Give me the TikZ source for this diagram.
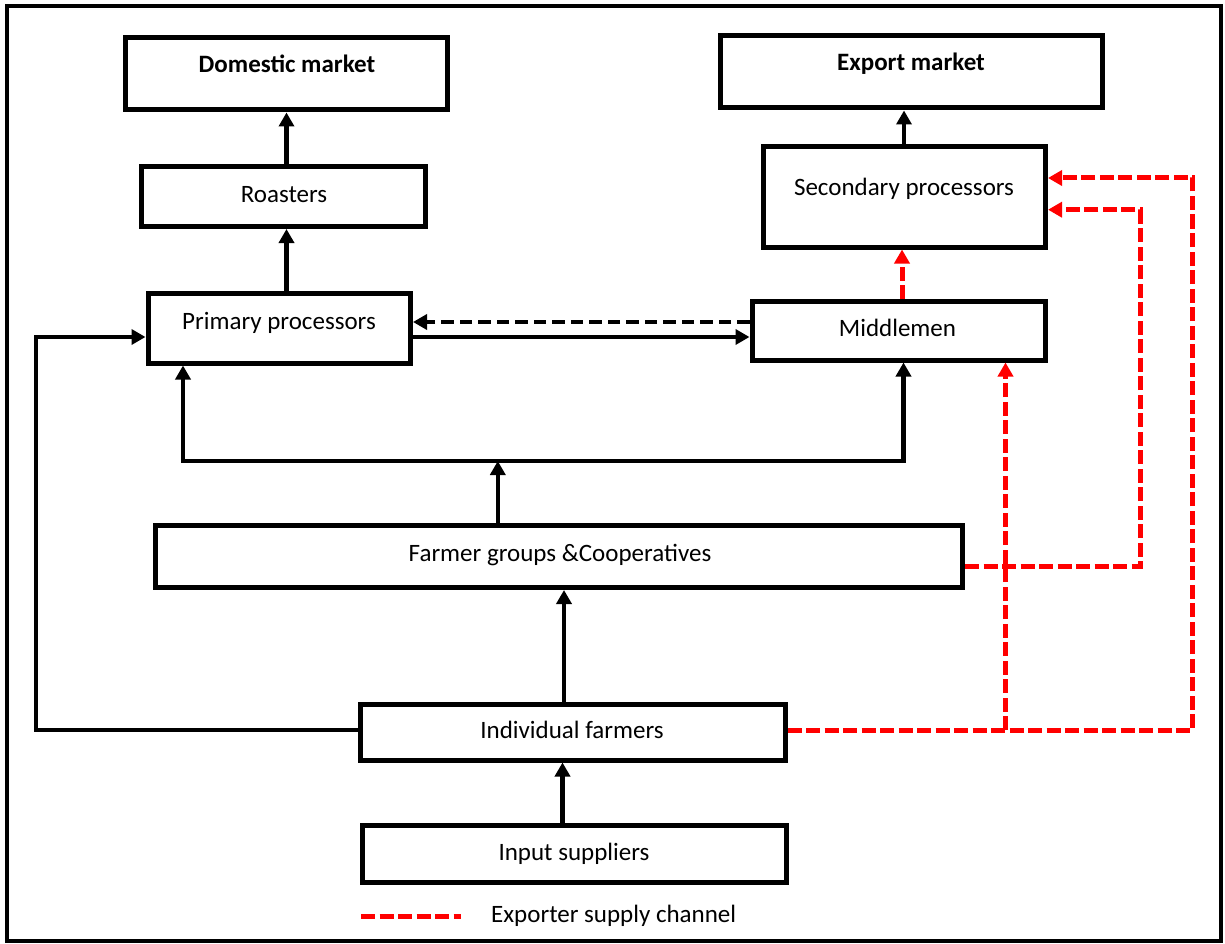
\documentclass[tikz,border=0pt]{standalone}
\usepackage{fontspec}
\setmainfont{Carlito}
\usetikzlibrary{arrows.meta}
\definecolor{chanred}{RGB}{255,0,0}
\begin{document}
\begin{tikzpicture}[x=1pt,y=-1pt,
  box/.style={draw, line width=5pt, rectangle, inner sep=0pt},
  txt/.style={anchor=base, inner sep=0pt, font=\fontsize{25}{30}\selectfont},
  line/.style={line width=4.5pt},
  conn/.style={line width=4.5pt, -{Triangle[length=14pt,width=15pt]}},
  dconn/.style={line width=4.5pt, {Triangle[length=14pt,width=15pt]}-{Triangle[length=14pt,width=15pt]}},
  blackdash/.style={line width=4.5pt, dash pattern=on 12.5pt off 6pt, -{Triangle[length=14pt,width=15pt]}},
  redline/.style={line width=5pt, chanred, dash pattern=on 14pt off 4.5pt},
  redconn/.style={redline, -{Triangle[length=14pt,width=15pt]}}
]
\useasboundingbox (0,0) rectangle (1225,944);
\draw[line width=4pt] (7,6) rectangle (1221,941);

% boxes
\node[box, minimum width=322.5pt, minimum height=72pt]  (dm) at (286.25,74) {};
\node[box, minimum width=382pt,   minimum height=72.5pt] (em) at (911,71.75) {};
\node[box, minimum width=283.5pt, minimum height=60pt]  (ro) at (283.25,196.5) {};
\node[box, minimum width=282pt,   minimum height=100.5pt] (sp) at (904.5,196.75) {};
\node[box, minimum width=262.5pt, minimum height=69.5pt] (pp) at (279.25,328.25) {};
\node[box, minimum width=293.5pt, minimum height=58.5pt] (mm) at (898.75,330.75) {};
\node[box, minimum width=807pt,   minimum height=62.5pt] (fg) at (559,556.25) {};
\node[box, minimum width=425pt,   minimum height=56pt]  (if) at (572.5,732) {};
\node[box, minimum width=424pt,   minimum height=57.5pt] (is) at (574,853.75) {};

% texts
\node[txt] (dmT) at (287,73) {\bfseries Domestic market};
\node[txt] (emT) at (911,71) {\bfseries Export market};
\node[txt] (roT) at (284,202) {Roasters};
\node[txt] (spT) at (904,196) {Secondary processors};
\node[txt] (ppT) at (279,329) {Primary processors};
\node[txt] (mmT) at (897.5,336) {Middlemen};
\node[txt] (fgT) at (560,561) {Farmer groups \&Cooperatives};
\node[txt] (ifT) at (572,738) {Individual farmers};
\node[txt] (isT) at (574,860) {Input suppliers};

% black connectors
\draw[conn] (286.5,0 |- ro.north) -- (286.5,0 |- dm.south);
\draw[conn] (286.5,0 |- pp.north) -- (286.5,0 |- ro.south);
\draw[conn] (904,0 |- sp.north) -- (904,0 |- em.south);
\draw[blackdash] (mm.west |- 0,322) -- (pp.east |- 0,322);
\draw[conn] (pp.east |- 0,337) -- (mm.west |- 0,337);
\draw[conn] (if.west |- 0,730) -- (36,730) -- (36,337) -- (pp.west |- 0,337);

\coordinate (j1) at (183,461);
\coordinate (j2) at (903.5,461);
\coordinate (j0) at (497.8,461);
\draw[dconn] (j1 |- pp.south) -- (j1) -- (j2) -- (j2 |- mm.south);
\draw[conn] (j0 |- fg.north) -- (j0);
\draw[conn] (564,0 |- if.north) -- (564,0 |- fg.south);
\draw[conn] (562.5,0 |- is.north) -- (562.5,0 |- if.south);

% red exporter channel
\draw[redconn] (902,0 |- mm.north) -- (902,0 |- sp.south);
\draw[redconn] (fg.east |- 0,566.5) -- (1140,566.5) -- (1140,209.7) -- (sp.east |- 0,209.7);
\draw[redconn] (if.east |- 0,730) -- (1192.5,730) -- (1192.5,178) -- (sp.east |- 0,178);
\coordinate (br) at (1005.5,730);
\draw[redconn] (br) -- (br |- mm.south);

% legend
\coordinate (legA) at (361,916);
\coordinate (legB) at (461,916);
\draw[redline] (legA) -- (legB);
\node[txt, anchor=base west] (legT) at (491,922) {Exporter supply channel};
\end{tikzpicture}
\end{document}
